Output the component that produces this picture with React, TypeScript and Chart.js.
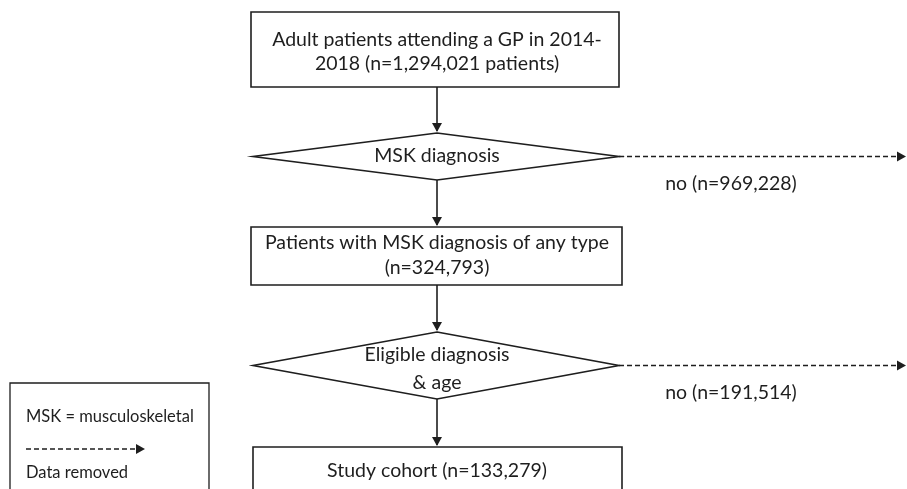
import React, { useEffect, useRef } from "react";
import { Chart, registerables } from "chart.js";

Chart.register(...registerables);

// ---- Flowchart content (data) ----
const stepKinds: string[] = ["box", "diamond", "box", "diamond", "box"];
const stepLines: string[][] = [
  ["Adult patients attending a GP in 2014-", "2018 (n=1,294,021 patients)"],
  ["MSK diagnosis"],
  ["Patients with MSK diagnosis of any type", "(n=324,793)"],
  ["Eligible diagnosis", "& age"],
  ["Study cohort (n=133,279)"],
];
const removedLabels: string[] = ["no (n=969,228)", "no (n=191,514)"];
const legendLabels: string[] = ["MSK = musculoskeletal", "Data removed"];

// ---- Layout (in scale units; the scales span the page in pixels) ----
const X_MAX = 907;
const Y_MAX = 489;
const flowX = 437;
const stepLeft = [251, 253, 251, 253, 253];
const stepRight = [619, 619, 622, 619, 622];
const stepTop = [12, 133, 227, 332, 447];
const stepBottom = [87, 180, 285, 399, 500];
const stepTextY = [[40, 64], [156], [243, 268], [355, 383], [471]];
const removedEndX = 906;
const removedTextX = 731;
const removedTextDy = 27;
const legendBox = { left: 10, right: 209, top: 383, bottom: 500 };
const legendTextX = 26;
const legendRowsY = [417, 449, 473];

const FONT = "Lato, 'Open Sans', sans-serif";
const INK = "#1e1e1e";

function arrowHead(ctx: CanvasRenderingContext2D, x: number, y: number, dir: "down" | "right") {
  const s = 9;
  const w = 5;
  ctx.beginPath();
  if (dir === "down") {
    ctx.moveTo(x, y);
    ctx.lineTo(x - w, y - s);
    ctx.lineTo(x + w, y - s);
  } else {
    ctx.moveTo(x, y);
    ctx.lineTo(x - s, y - w);
    ctx.lineTo(x - s, y + w);
  }
  ctx.closePath();
  ctx.fill();
}

const flowPlugin = {
  id: "flowchart",
  afterDraw(chart: any) {
    const ctx: CanvasRenderingContext2D = chart.ctx;
    const xs = chart.scales.x;
    const ys = chart.scales.y;
    const px = (v: number) => xs.getPixelForValue(v);
    const py = (v: number) => ys.getPixelForValue(v);
    ctx.save();
    ctx.strokeStyle = INK;
    ctx.fillStyle = INK;
    ctx.lineWidth = 1.6;
    ctx.textAlign = "center";
    ctx.textBaseline = "middle";

    stepKinds.forEach((kind, i) => {
      const l = px(stepLeft[i]);
      const r = px(stepRight[i]);
      const t = py(stepTop[i]);
      const b = py(stepBottom[i]);
      const cx = px(flowX);
      ctx.setLineDash([]);
      ctx.lineWidth = 1.6;
      ctx.beginPath();
      if (kind === "box") {
        ctx.rect(l, t, r - l, b - t);
      } else {
        const my = (t + b) / 2;
        ctx.moveTo(cx, t);
        ctx.lineTo(r, my);
        ctx.lineTo(cx, b);
        ctx.lineTo(l, my);
        ctx.closePath();
      }
      ctx.stroke();

      ctx.font = `19.5px ${FONT}`;
      stepLines[i].forEach((line, j) => {
        ctx.fillText(line, cx, py(stepTextY[i][j]));
      });

      // connector to next step
      if (i < stepKinds.length - 1) {
        ctx.beginPath();
        ctx.moveTo(cx, b);
        ctx.lineTo(cx, py(stepTop[i + 1]) - 2);
        ctx.stroke();
        arrowHead(ctx, cx, py(stepTop[i + 1]) - 1, "down");
      }

      // removed branch from diamonds
      if (kind === "diamond") {
        const k = i === 1 ? 0 : 1;
        const my = (t + b) / 2;
        ctx.setLineDash([5, 3]);
        ctx.lineWidth = 1.3;
        ctx.beginPath();
        ctx.moveTo(r, my);
        ctx.lineTo(px(removedEndX) - 6, my);
        ctx.stroke();
        ctx.setLineDash([]);
        arrowHead(ctx, px(removedEndX), my, "right");
        ctx.font = `19.5px ${FONT}`;
        ctx.fillText(removedLabels[k], px(removedTextX), my + removedTextDy);
      }
    });

    // legend
    ctx.setLineDash([]);
    ctx.lineWidth = 1.3;
    ctx.beginPath();
    ctx.rect(px(legendBox.left), py(legendBox.top), px(legendBox.right) - px(legendBox.left), py(legendBox.bottom) - py(legendBox.top));
    ctx.stroke();
    ctx.textAlign = "left";
    ctx.font = `16.5px ${FONT}`;
    ctx.fillText(legendLabels[0], px(legendTextX), py(legendRowsY[0]));
    ctx.setLineDash([5, 3]);
    ctx.beginPath();
    ctx.moveTo(px(legendTextX), py(legendRowsY[1]));
    ctx.lineTo(px(legendTextX + 110), py(legendRowsY[1]));
    ctx.stroke();
    ctx.setLineDash([]);
    arrowHead(ctx, px(legendTextX + 119), py(legendRowsY[1]), "right");
    ctx.fillText(legendLabels[1], px(legendTextX), py(legendRowsY[2]));
    ctx.restore();
  },
};

export default function App() {
  const ref = useRef<HTMLCanvasElement | null>(null);
  useEffect(() => {
    if (!ref.current) return;
    const chart = new Chart(ref.current, {
      type: "scatter",
      data: { datasets: [{ data: [], pointRadius: 0 }] },
      options: {
        animation: false,
        responsive: false,
        maintainAspectRatio: false,
        layout: { padding: 0 },
        plugins: { legend: { display: false }, tooltip: { enabled: false } },
        scales: {
          x: { type: "linear", min: 0, max: X_MAX, display: false },
          y: { type: "linear", min: 0, max: Y_MAX, reverse: true, display: false },
        },
      },
      plugins: [flowPlugin],
    });
    return () => chart.destroy();
  }, []);
  return (
    <div style={{ position: "fixed", left: 0, top: 0, width: X_MAX, height: Y_MAX, background: "#fff" }}>
      <canvas ref={ref} width={X_MAX} height={Y_MAX} style={{ display: "block" }} />
    </div>
  );
}
